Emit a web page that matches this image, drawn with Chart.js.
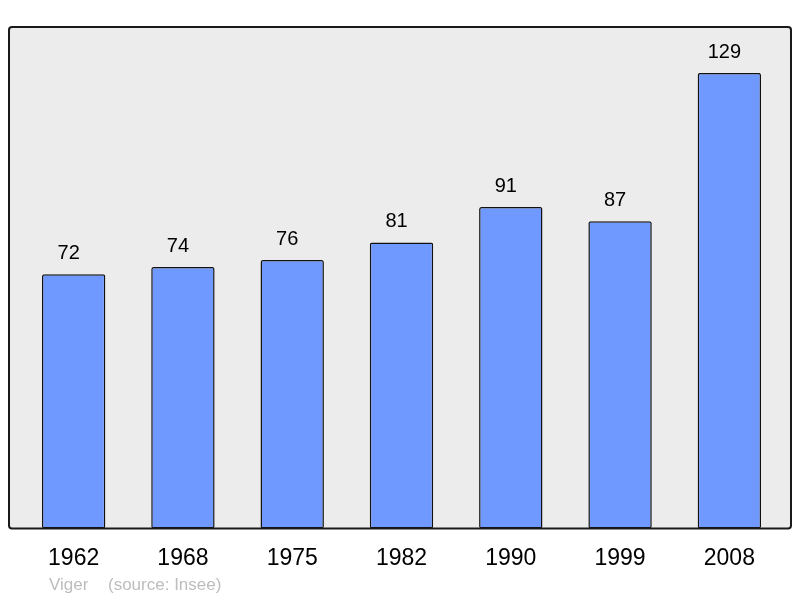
<!DOCTYPE html>
<html>
<head>
<meta charset="utf-8">
<script src="https://cdn.jsdelivr.net/npm/chart.js@4.4.0/dist/chart.umd.min.js"></script>
<style>
    html, body { margin: 0; padding: 0; background: #ffffff; }
    #wrap { width: 800px; height: 598px; }
</style>
</head>
<body>
<div id="wrap"><canvas id="popChart" width="800" height="598"></canvas></div>
<script>
const years = ['1962', '1968', '1975', '1982', '1990', '1999', '2008'];
const population = [72, 74, 76, 81, 91, 87, 129];
const footerText = ['Viger', '(source: Insee)'];

const FONT = '"Liberation Sans", Arial, sans-serif';

// frame, value labels and footer
const decorPlugin = {
    id: 'decor',
    beforeDraw(chart) {
        const ctx = chart.ctx;
        const a = chart.chartArea;
        const x0 = 9, x1 = 791, y0 = a.top, y1 = a.bottom;
        ctx.save();
        ctx.beginPath();
        ctx.roundRect(x0, y0, x1 - x0, y1 - y0, 3);
        ctx.fillStyle = '#ececec';
        ctx.fill();
        ctx.restore();
    },
    afterDatasetsDraw(chart) {
        const ctx = chart.ctx;
        const a = chart.chartArea;
        const x0 = 9, x1 = 791, y0 = a.top, y1 = a.bottom;
        ctx.save();
        ctx.beginPath();
        ctx.roundRect(x0, y0, x1 - x0, y1 - y0, 3);
        ctx.lineWidth = 2;
        ctx.strokeStyle = '#1a1a1a';
        ctx.stroke();

        const meta = chart.getDatasetMeta(0);
        ctx.fillStyle = '#000000';
        ctx.font = '20px ' + FONT;
        ctx.textAlign = 'center';
        ctx.textBaseline = 'alphabetic';
        meta.data.forEach((bar, i) => {
            ctx.fillText(String(population[i]), bar.x - 5, bar.y - 15);
        });

        ctx.fillStyle = '#bdbdbd';
        ctx.font = '17px ' + FONT;
        ctx.textAlign = 'left';
        ctx.fillText(footerText[0], 49, 590);
        ctx.fillText(footerText[1], 108, 590);
        ctx.restore();
    }
};

document.addEventListener('DOMContentLoaded', function() {
    const ctx = document.getElementById('popChart').getContext('2d');

    new Chart(ctx, {
        type: 'bar',
        data: {
            labels: years,
            datasets: [{
                data: population,
                backgroundColor: '#7099ff',
                borderColor: '#111111',
                borderWidth: 1.5,
                borderRadius: 2,
                borderSkipped: false,
                barPercentage: 0.58,
                categoryPercentage: 1.0
            }]
        },
        options: {
            responsive: false,
            animation: false,
            devicePixelRatio: 1,
            layout: {
                padding: { left: 19, right: 16, top: 27, bottom: 10 }
            },
            plugins: {
                legend: { display: false },
                tooltip: { enabled: false }
            },
            scales: {
                x: {
                    grid: { display: false, drawTicks: false },
                    border: { display: false },
                    ticks: {
                        color: '#000000',
                        padding: 16,
                        font: { family: FONT, size: 23 }
                    }
                },
                y: {
                    display: false,
                    min: 0,
                    max: 142
                }
            }
        },
        plugins: [decorPlugin]
    });
});
</script>
</body>
</html>
